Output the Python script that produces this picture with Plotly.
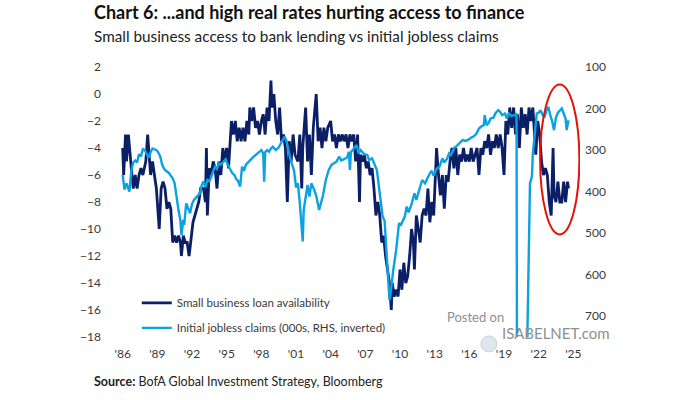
import plotly.graph_objects as go

# Small business loan availability (NFIB, net %), left axis
loan_dates = [
    "1986-01", "1986-02", "1986-04", "1986-05", "1986-07", "1986-09", "1986-10", "1986-12",
    "1987-02", "1987-04", "1987-06", "1987-08", "1987-10", "1988-01", "1988-03", "1988-05",
    "1988-06", "1988-08", "1988-10", "1988-12", "1989-03", "1989-05", "1989-07", "1989-09",
    "1989-11", "1990-01", "1990-03", "1990-05", "1990-07", "1990-09", "1990-11", "1991-01",
    "1991-02", "1991-04", "1991-06", "1991-08", "1991-10", "1991-12", "1992-02", "1992-04",
    "1992-06", "1992-08", "1992-10", "1993-01", "1993-03", "1993-04", "1993-05", "1993-07",
    "1993-09", "1993-11", "1994-01", "1994-03", "1994-05", "1994-07", "1994-09", "1994-11",
    "1995-01", "1995-03", "1995-06", "1995-08", "1995-10", "1995-12", "1996-02", "1996-04",
    "1996-06", "1996-08", "1996-10", "1996-12", "1997-01", "1997-03", "1997-05", "1997-07",
    "1997-09", "1997-11", "1998-01", "1998-03", "1998-05", "1998-07", "1998-09", "1998-11",
    "1998-12", "1999-02", "1999-04", "1999-06", "1999-08", "1999-10", "1999-12", "2000-02",
    "2000-04", "2000-06", "2000-08", "2000-10", "2000-12", "2001-03", "2001-05", "2001-07",
    "2001-08", "2001-11", "2002-01", "2002-03", "2002-05", "2002-07", "2002-10", "2002-12",
    "2003-02", "2003-04", "2003-06", "2003-08", "2003-10", "2004-01", "2004-03", "2004-05",
    "2004-07", "2004-09", "2004-11", "2005-01", "2005-03", "2005-05", "2005-07", "2005-09",
    "2005-11", "2006-01", "2006-03", "2006-05", "2006-07", "2006-08", "2006-10", "2006-12",
    "2007-02", "2007-04", "2007-06", "2007-08", "2007-10", "2007-12", "2008-02", "2008-04",
    "2008-06", "2008-08", "2008-10", "2008-12", "2009-02", "2009-04", "2009-05", "2009-07",
    "2009-09", "2009-11", "2010-01", "2010-03", "2010-05", "2010-07", "2010-09", "2010-11",
    "2011-01", "2011-03", "2011-04", "2011-06", "2011-08", "2011-10", "2011-12", "2012-02",
    "2012-04", "2012-06", "2012-08", "2012-10", "2012-12", "2013-03", "2013-05", "2013-07",
    "2013-09", "2013-11", "2014-01", "2014-03", "2014-05", "2014-07", "2014-09", "2014-11",
    "2015-01", "2015-03", "2015-05", "2015-07", "2015-09", "2015-11", "2016-01", "2016-03",
    "2016-05", "2016-07", "2016-09", "2016-11", "2017-01", "2017-03", "2017-05", "2017-07",
    "2017-09", "2017-11", "2018-01", "2018-03", "2018-05", "2018-07", "2018-09", "2018-11",
    "2019-01", "2019-03", "2019-05", "2019-07", "2019-09", "2019-11", "2020-01", "2020-03",
    "2020-05", "2020-07", "2020-09", "2020-11", "2021-01", "2021-03", "2021-05", "2021-07",
    "2021-09", "2021-10", "2021-12", "2022-02", "2022-04", "2022-06", "2022-08", "2022-10",
    "2022-12", "2023-02", "2023-04", "2023-05", "2023-07", "2023-09", "2023-11", "2024-01",
    "2024-03", "2024-05", "2024-07", "2024-08",
]
loan_avail = [
    -4, -6, -3, -5, -3, -5, -5.5, -7,
    -6, -7, -6, -5.5, -6, -5, -3, -5,
    -6, -5, -6, -7, -10, -7, -6.5, -7,
    -8.5, -8, -8.5, -11, -10.5, -11, -10.5, -11,
    -12, -10.5, -11, -11, -12, -10.5, -9.5, -9,
    -8.5, -8, -7, -7, -8, -4, -9, -5.5,
    -6, -5, -5.5, -7, -5, -6, -4, -5,
    -4, -5.5, -2, -3, -2, -3.5, -2.5, -3.5,
    -2.5, -3.5, -2, -3, -1, -2, -1, -2.5,
    -2, -3, -2, -1.5, -3, -1, -2, 1,
    -1, 0, -2, -3, -1, -3.5, -3, -4,
    -8, -3.5, -5, -3, -4.5, -5, -3, -7,
    -4, -1, -5, -3, -6, -2.5, 0, -3.5,
    -2.5, -4, -2.5, -3.5, -2.5, -2, -3.5, -3,
    -4, -3, -3.5, -3, -3.5, -3, -4, -3,
    -3.5, -3, -5, -3, -8, -4.5, -5, -4.5,
    -5.5, -5, -6, -5.5, -7, -9, -8, -9,
    -11, -10.5, -12, -13, -14, -16, -14, -15,
    -14.5, -15, -13, -14.5, -12.5, -14, -13.5, -12,
    -10, -11, -13, -9, -10, -11, -9, -8.5,
    -9, -7, -9.5, -8, -9, -4, -6, -7.5,
    -6, -8.5, -6, -6.5, -5, -4, -5.5, -4,
    -6, -4.5, -5, -4, -5, -4.5, -5, -4,
    -5, -4.5, -4, -6, -4, -4.5, -3.5, -4,
    -3, -4.5, -3.5, -4, -3, -4, -3, -4,
    -6, -2, -3, -1, -2.5, -1, -3, -1.5,
    -4, -1, -2.5, -1.5, -3, -1, -2, -1,
    -3, -4.5, -2, -3, -5, -6, -5.5, -6,
    -8, -9, -4, -7.5, -8, -6.5, -8, -8,
    -6.5, -8, -6.5, -7,
]

# Initial jobless claims (000s), right axis, inverted
claims_dates = [
    "1986-01", "1986-03", "1986-05", "1986-08", "1986-10", "1986-12", "1987-02", "1987-04",
    "1987-06", "1987-08", "1987-10", "1987-12", "1988-02", "1988-04", "1988-06", "1988-08",
    "1988-10", "1988-12", "1989-02", "1989-04", "1989-06", "1989-08", "1989-10", "1990-01",
    "1990-03", "1990-05", "1990-07", "1990-09", "1990-11", "1991-01", "1991-02", "1991-04",
    "1991-05", "1991-07", "1991-09", "1991-11", "1992-01", "1992-03", "1992-05", "1992-07",
    "1992-09", "1992-11", "1993-01", "1993-03", "1993-05", "1993-07", "1993-09", "1993-11",
    "1994-01", "1994-03", "1994-05", "1994-07", "1994-09", "1994-12", "1995-02", "1995-04",
    "1995-07", "1995-09", "1995-11", "1996-01", "1996-03", "1996-05", "1996-07", "1996-09",
    "1996-11", "1997-01", "1997-03", "1997-05", "1997-07", "1997-09", "1997-11", "1998-01",
    "1998-03", "1998-04", "1998-05", "1998-07", "1998-09", "1998-11", "1999-01", "1999-04",
    "1999-07", "1999-10", "2000-01", "2000-03", "2000-05", "2000-07", "2000-09", "2000-11",
    "2001-01", "2001-03", "2001-05", "2001-08", "2001-09", "2001-11", "2002-01", "2002-03",
    "2002-05", "2002-08", "2002-10", "2003-01", "2003-03", "2003-05", "2003-08", "2003-11",
    "2004-02", "2004-04", "2004-07", "2004-10", "2004-12", "2005-03", "2005-06", "2005-08",
    "2005-09", "2005-10", "2005-12", "2006-02", "2006-04", "2006-06", "2006-08", "2006-10",
    "2006-12", "2007-03", "2007-05", "2007-08", "2007-10", "2008-01", "2008-04", "2008-07",
    "2008-09", "2008-11", "2009-02", "2009-03", "2009-04", "2009-06", "2009-09", "2009-12",
    "2010-02", "2010-04", "2010-06", "2010-08", "2010-10", "2011-01", "2011-04", "2011-06",
    "2011-09", "2011-12", "2012-03", "2012-06", "2012-08", "2012-10", "2012-12", "2013-03",
    "2013-06", "2013-09", "2013-11", "2014-02", "2014-04", "2014-06", "2014-09", "2014-11",
    "2015-02", "2015-04", "2015-06", "2015-09", "2015-12", "2016-03", "2016-05", "2016-08",
    "2016-11", "2017-01", "2017-04", "2017-05", "2017-07", "2017-09", "2017-11", "2018-02",
    "2018-04", "2018-07", "2018-09", "2018-11", "2019-02", "2019-04", "2019-06", "2019-09",
    "2019-12", "2020-02", "2020-03", "2020-04", "2020-06", "2020-08", "2020-10", "2020-12",
    "2021-01", "2021-04", "2021-06", "2021-07", "2021-09", "2021-11", "2022-01", "2022-03",
    "2022-05", "2022-07", "2022-09", "2022-11", "2023-01", "2023-03", "2023-05", "2023-07",
    "2023-09", "2023-11", "2024-01", "2024-03", "2024-05", "2024-06", "2024-08",
]
jobless_claims = [
    360, 395, 380, 400, 350, 330, 325, 330,
    310, 315, 298, 300, 310, 318, 305, 296,
    298, 300, 306, 315, 335, 345, 350, 355,
    362, 368, 380, 420, 445, 470, 505, 468,
    480, 428, 440, 452, 430, 420, 415, 410,
    405, 385, 375, 390, 372, 375, 365, 350,
    340, 345, 332, 335, 330, 322, 335, 345,
    356, 360, 370, 375, 388, 340, 350, 335,
    330, 324, 320, 316, 312, 308, 305, 300,
    308, 376, 305, 300, 304, 296, 292, 300,
    294, 280, 268, 276, 300, 320, 335, 350,
    390, 380, 428, 520, 444, 410, 384, 412,
    380, 396, 410, 444, 428, 410, 372, 348,
    335, 332, 328, 316, 325, 322, 318, 304,
    348, 305, 300, 295, 288, 308, 300, 305,
    310, 312, 324, 320, 330, 348, 404, 460,
    470, 557, 661, 650, 625, 589, 541, 476,
    480, 470, 460, 436, 450, 430, 404, 420,
    395, 372, 380, 365, 356, 350, 362, 345,
    340, 320, 330, 320, 308, 312, 295, 292,
    285, 282, 276, 278, 275, 270, 268, 262,
    248, 244, 240, 216, 240, 235, 224, 222,
    212, 204, 208, 216, 212, 224, 212, 218,
    216, 212, 1500, 4500, 1500, 1000, 820, 800,
    780, 380, 364, 308, 260, 212, 210, 204,
    215, 222, 205, 196, 216, 230, 252, 222,
    210, 204, 200, 212, 224, 252, 228,
]

tick_years = list(range(1986, 2026, 3))
tick_labels = ["'%02d" % (y % 100) for y in tick_years]

NAVY = "#0B1F66"
SKY = "#0AA2E2"
TXT = "#3A3A3A"
FONT = "Lato"

fig = go.Figure()
fig.add_trace(go.Scatter(
    x=loan_dates, y=loan_avail, mode="lines", name="Small business loan availability",
    line=dict(color=NAVY, width=2.8), legendgroup="a",
))
fig.add_trace(go.Scatter(
    x=claims_dates, y=jobless_claims, mode="lines", yaxis="y2",
    name="Initial jobless claims (000s, RHS, inverted)",
    line=dict(color=SKY, width=2.4), legendgroup="b",
))

# red ellipse around the latest divergence
fig.add_shape(type="circle", xref="x", yref="y",
              x0="2022-02-15", x1="2025-07-10", y0=-10.4, y1=0.7,
              line=dict(color="#E3120B", width=2))

fig.add_annotation(text="<b>Chart 6: ...and high real rates hurting access to finance</b>",
                   xref="paper", yref="paper", x=-0.034, y=1.205, xanchor="left", yanchor="middle",
                   showarrow=False, font=dict(family=FONT, size=18, color="#111"))
fig.add_annotation(text="Small business access to bank lending vs initial jobless claims",
                   xref="paper", yref="paper", x=-0.034, y=1.115, xanchor="left", yanchor="middle",
                   showarrow=False, font=dict(family=FONT, size=15.3, color="#222"))
fig.add_annotation(text="<b>Source:</b> BofA Global Investment Strategy, Bloomberg",
                   xref="paper", yref="paper", x=-0.034, y=-0.163, xanchor="left", yanchor="middle",
                   showarrow=False, font=dict(family=FONT, size=12.5, color="#222"))

# watermark
fig.add_annotation(text="Posted on", xref="paper", yref="paper", x=0.843, y=0.037,
                   showarrow=False, font=dict(family=FONT, size=13, color="#8f8f8f"))
fig.add_annotation(text="ISABELNET.com", xref="paper", yref="paper", x=0.83, y=-0.026,
                   xanchor="left", showarrow=False, font=dict(family=FONT, size=15, color="#8f8f8f"))
fig.add_shape(type="circle", xref="paper", yref="paper", x0=0.79, x1=0.824, y0=-0.055, y1=0.004,
              line=dict(color="#c9d3dc", width=1), fillcolor="#dfe6ec", layer="below")

fig.update_layout(
    width=700, height=400,
    margin=dict(l=108, r=120, t=67, b=63),
    paper_bgcolor="white", plot_bgcolor="white",
    font=dict(family=FONT, size=12, color=TXT),
    showlegend=True,
    legend=dict(x=0.061, y=0.18, xanchor="left", yanchor="top", bgcolor="rgba(0,0,0,0)",
                font=dict(family=FONT, size=11.5, color=TXT), tracegroupgap=6,
                traceorder="grouped"),
    xaxis=dict(type="date", range=["1984-09-24", "2025-07-30"], tickvals=[f"{y}-01-01" for y in tick_years],
               ticktext=tick_labels, showgrid=False, zeroline=False, showline=False,
               ticks="", ticklabelstandoff=8),
    yaxis=dict(range=[-18, 2], dtick=2, showgrid=False, zeroline=False, showline=False,
               ticks="", ticklabelstandoff=6),
    yaxis2=dict(range=[750, 100], tick0=100, dtick=100, overlaying="y", side="right",
                showgrid=False, zeroline=False, showline=False, ticks="", ticklabelstandoff=4),
)

# drop the browser's default 8px body margin so the figure fills the window
fig.write_html("out.html", config={"displayModeBar": False},
               post_script="document.body.style.margin='0px';")
